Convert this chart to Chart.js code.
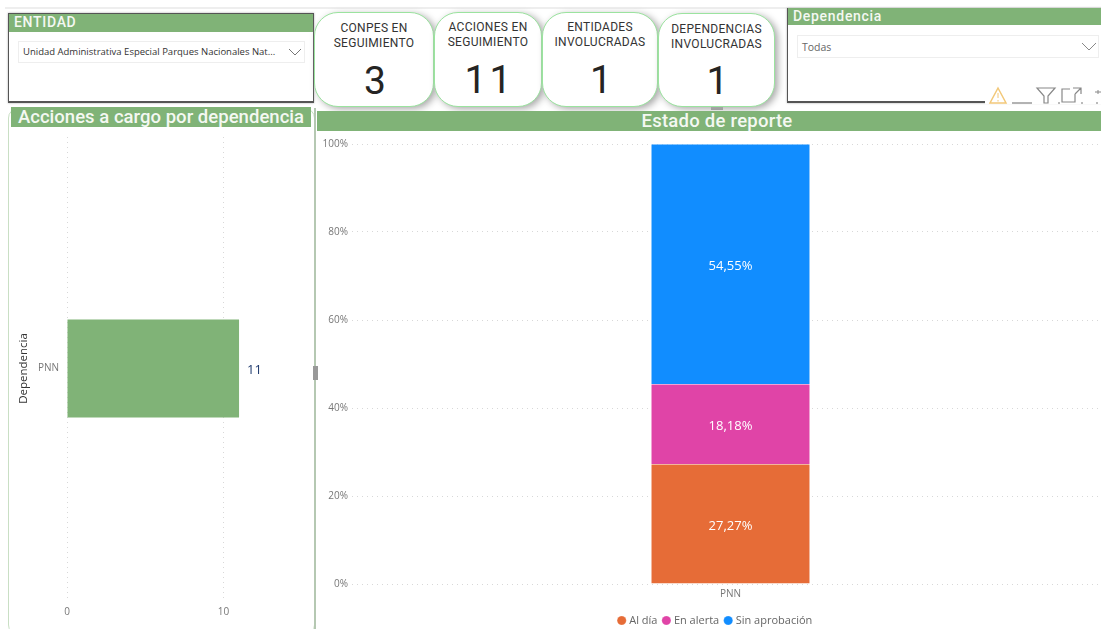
<!DOCTYPE html>
<html lang="es">
<head>
<meta charset="utf-8">
<title>Estado de reporte</title>
<script src="https://cdn.jsdelivr.net/npm/chart.js@4"></script>
<style>
html,body{margin:0;padding:0;background:#fff;width:1101px;height:629px;overflow:hidden}
body{position:relative;font-family:"Open Sans",sans-serif}
.abs{position:absolute;box-sizing:border-box}
.slicer{border:1px solid #555;border-width:1px 1px 2px 1px;background:#fff;box-shadow:0 0 2px #aaa}
.shead{background:#80b377;color:#f4f8f2;font-family:Roboto,sans-serif;font-weight:500;font-size:14px;letter-spacing:.7px;line-height:17px;padding-left:5px}
.sel{border:1px solid #eee;background:#fff;font-size:9.5px;color:#333;line-height:20px;padding-left:4px;white-space:nowrap;overflow:hidden}
.card{border:1.5px solid #9be39f;border-radius:24px;background:#fff;box-shadow:3px 2px 7px #aaa;text-align:center;font-family:Roboto,sans-serif;color:#333}
.card .t{position:absolute;left:0;right:0;font-size:12px;line-height:15px;letter-spacing:.3px}
.card .v{position:absolute;left:0;right:0;font-size:39px;line-height:44px;color:#252423}
.bar{background:#80b377;color:#f4f8f2;font-family:Roboto,sans-serif;font-weight:500;text-align:center;white-space:nowrap}
canvas{position:absolute}
</style>
</head>
<body>
<div class="abs" style="left:5px;top:7px;width:1096px;height:2px;background:#eee"></div>

<div class="abs" style="left:8px;top:108px;width:307px;height:527px;border:1.5px solid #c9dfc4;border-radius:10px;background:#fff"></div>
<div class="abs" style="left:314px;top:108px;width:2px;height:521px;background:#b5c8b2"></div>
<div class="abs" style="left:313px;top:366px;width:5px;height:14px;background:#999"></div>
<div class="abs" style="left:711px;top:106px;width:12px;height:4px;background:#999"></div>

<div class="abs slicer" style="left:8px;top:13px;width:306px;height:90px">
  <div class="shead" style="height:18px">ENTIDAD</div>
  <div class="abs sel" style="left:9px;top:27px;width:287px;height:22px">Unidad Administrativa Especial Parques Nacionales Nat...</div>
  <svg class="abs" style="left:279px;top:34px" width="14" height="8"><path d="M1 1L7 7L13 1" fill="none" stroke="#777"/></svg>
</div>

<div class="abs card" style="left:314px;top:12px;width:120px;height:95px"><div class="t" style="top:8px">CONPES EN<br>SEGUIMIENTO</div><div class="v" style="top:46px;padding-left:2px">3</div></div>
<div class="abs card" style="left:434px;top:12px;width:108px;height:95px"><div class="t" style="top:7px">ACCIONES EN<br>SEGUIMIENTO</div><div class="v" style="top:45px;letter-spacing:3px;padding-left:3px">11</div></div>
<div class="abs card" style="left:542px;top:12px;width:116px;height:95px"><div class="t" style="top:7px">ENTIDADES<br>INVOLUCRADAS</div><div class="v" style="top:45px;padding-left:2px">1</div></div>
<div class="abs card" style="left:658px;top:13px;width:117px;height:94px"><div class="t" style="top:8px">DEPENDENCIAS<br>INVOLUCRADAS</div><div class="v" style="top:45px;padding-left:2px">1</div></div>

<div class="abs slicer" style="left:787px;top:8px;width:320px;height:95px;border-top:0">
  <div class="shead" style="height:17px">Dependencia</div>
  <div class="abs sel" style="left:9px;top:27px;width:302px;height:23px;color:#666;font-size:10.5px;line-height:23px">Todas</div>
  <svg class="abs" style="left:293px;top:34px" width="16" height="9"><path d="M1 1L8 8L15 1" fill="none" stroke="#888"/></svg>
</div>
<div class="abs" style="left:985px;top:84px;width:116px;height:20px;background:#fff"></div>
<svg class="abs" style="left:988px;top:85px" width="113" height="20">
  <path d="M10 3L18 18H2Z" fill="none" stroke="#f2c879" stroke-width="1.5"/><path d="M10 8V13M10 15V16.5" stroke="#f2c879"/>
  <path d="M24 18H44" stroke="#666"/>
  <path d="M49 3H67L60 11V18H56V11Z" fill="none" stroke="#888" stroke-width="1.2"/>
  <path d="M70 18H72M93 18H95M108 18H110" stroke="#777"/>
  <path d="M87 9V17H81H74V4H82M85 3H93V9M93 3L87 9" fill="none" stroke="#888" stroke-width="1.2"/>
  <path d="M107 7H113M110 5V9" stroke="#888"/>
</svg>

<div class="abs bar" style="left:11px;top:107px;width:300px;height:20px;font-size:18.5px;line-height:20px;letter-spacing:.03px">Acciones a cargo por dependencia</div>
<div class="abs bar" style="left:317px;top:111px;width:800px;height:20px;font-size:18.5px;line-height:21px;letter-spacing:.25px">Estado de reporte</div>

<canvas id="left" style="left:13px;top:123px"></canvas>
<canvas id="main" style="left:317px;top:132px"></canvas>

<script>
const categories = ["PNN"];
const dependenciaValues = [11];
const dependenciaTicks = [0, 10];
const estadoNames = ["Al día", "En alerta", "Sin aprobación"];
const alDia = [27.27];
const enAlerta = [18.18];
const sinAprobacion = [54.55];
const percentTicks = [0, 20, 40, 60, 80, 100];
const estadoColors = ["#e66c37", "#e044a7", "#118dff"];
const barGreen = "#80b377";
const FONT = '"Open Sans", sans-serif';
const gridStyle = {color: "#d8d8d8", lineWidth: 1, drawTicks: false};
const dotted = {display: false, dash: [1, 4]};
const fmt = v => v.toFixed(2).replace(".", ",") + "%";

const labelPlugin = {
  id: "barLabels",
  afterDatasetsDraw(chart, args, opts) {
    const ctx = chart.ctx;
    ctx.save();
    ctx.textBaseline = "middle";
    chart.data.datasets.forEach((ds, i) => {
      chart.getDatasetMeta(i).data.forEach((el, j) => {
        const v = ds.data[j];
        ctx.font = opts.font;
        ctx.fillStyle = opts.color;
        if (opts.outside) {
          ctx.textAlign = "left";
          ctx.fillText(String(v), el.x + 8, el.y + 2);
        } else {
          ctx.textAlign = "center";
          ctx.fillText(fmt(v), el.x, (el.y + el.base) / 2 + 2.5);
        }
      });
    });
    ctx.restore();
  }
};

function sized(id, w, h) {
  const c = document.getElementById(id);
  c.width = w; c.height = h;
  c.style.width = w + "px"; c.style.height = h + "px";
  return c;
}

new Chart(sized("left", 298, 503), {
  type: "bar",
  plugins: [labelPlugin],
  data: {
    labels: categories,
    datasets: [{label: "Acciones", data: dependenciaValues, backgroundColor: barGreen, barPercentage: 0.212, categoryPercentage: 1}]
  },
  options: {
    indexAxis: "y",
    responsive: false,
    animation: false,
    layout: {padding: {top: 6, right: 0, bottom: 0, left: 0}},
    plugins: {
      legend: {display: false},
      tooltip: {enabled: false},
      barLabels: {outside: true, font: "13px " + FONT, color: "#1f3a6e"}
    },
    scales: {
      x: {
        min: 0, max: 15.6,
        afterBuildTicks: s => { s.ticks = dependenciaTicks.map(value => ({value})); },
        afterFit: s => { s.height = 26; },
        grid: gridStyle,
        border: dotted,
        ticks: {color: "#777", font: {size: 10, family: FONT}, padding: 6, maxRotation: 0}
      },
      y: {
        afterFit: s => { s.width = 54; },
        grid: {display: false, drawTicks: false},
        border: {display: false},
        title: {display: true, text: "Dependencia", color: "#333", font: {size: 11.5, family: FONT, weight: "500"}, padding: {top: 4, bottom: 0}},
        ticks: {color: "#777", font: {size: 10, family: FONT}, padding: 8}
      }
    }
  }
});

new Chart(sized("main", 808, 504), {
  type: "bar",
  plugins: [labelPlugin],
  data: {
    labels: categories,
    datasets: [
      {label: estadoNames[0], data: alDia, backgroundColor: estadoColors[0]},
      {label: estadoNames[1], data: enAlerta, backgroundColor: estadoColors[1]},
      {label: estadoNames[2], data: sinAprobacion, backgroundColor: estadoColors[2]}
    ].map(d => ({...d, barPercentage: 0.21, categoryPercentage: 1, borderColor: "rgba(255,255,255,.45)", borderWidth: 0.5}))
  },
  options: {
    responsive: false,
    animation: false,
    layout: {padding: {top: 12, right: 16, bottom: 0, left: 6}},
    plugins: {
      tooltip: {enabled: false},
      barLabels: {outside: false, font: "13px " + FONT, color: "#fff"},
      legend: {
        position: "bottom",
        labels: {
          usePointStyle: true, pointStyle: "circle", boxWidth: 4, boxHeight: 6.5, padding: 7,
          color: "#666", font: {size: 11, family: FONT}
        }
      }
    },
    scales: {
      x: {
        stacked: true,
        afterFit: s => { s.height = 24; },
        grid: {display: false, drawTicks: false},
        border: {display: false},
        ticks: {color: "#777", font: {size: 10, family: FONT}, padding: 4}
      },
      y: {
        stacked: true, min: 0, max: 100,
        afterBuildTicks: s => { s.ticks = percentTicks.map(value => ({value})); },
        afterFit: s => { s.width = 29; },
        grid: gridStyle,
        border: dotted,
        ticks: {color: "#777", font: {size: 10, family: FONT}, padding: 4, callback: v => v + "%"}
      }
    }
  }
});
</script>
</body>
</html>
